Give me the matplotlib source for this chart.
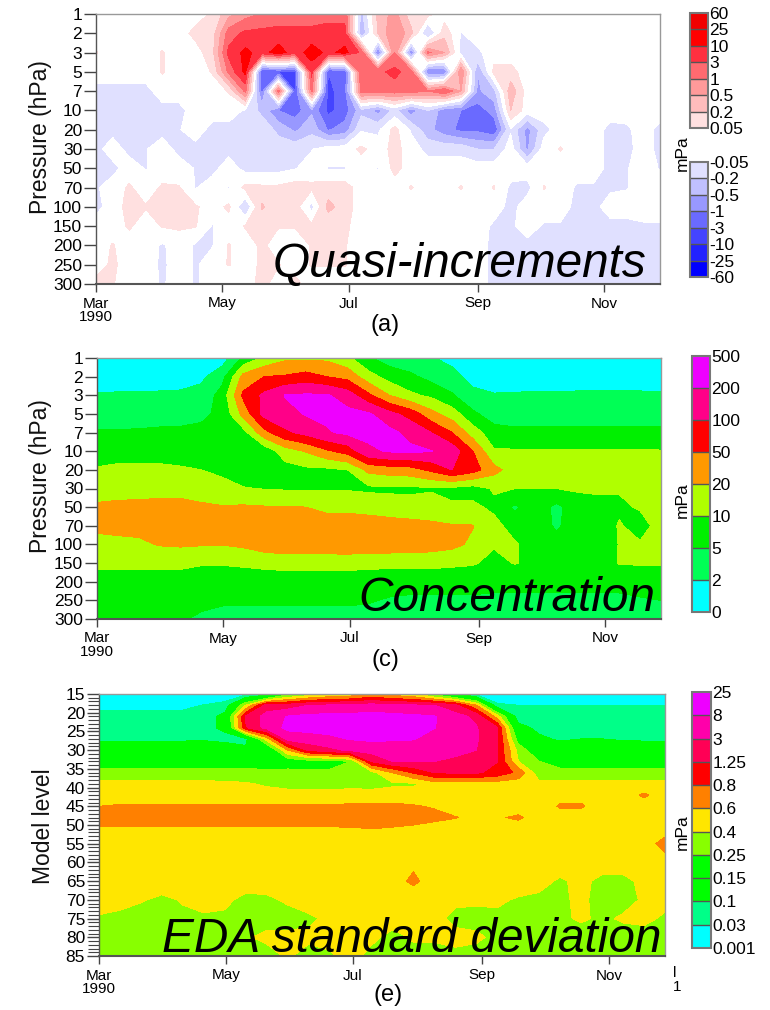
import numpy as np
import matplotlib
matplotlib.use("Agg")
import matplotlib.pyplot as plt
from matplotlib.cm import ScalarMappable
from matplotlib.colors import BoundaryNorm, ListedColormap

PRESSURE = ['1','2','3','5','7','10','20','30','50','70','100','150','200','250','300']
MONTHS = ['Mar\n1990','May','Jul','Sep','Nov']
MONTH_DAYS = [0,61,122,184,245]
END_DAY = 272

LEV_A_POS = [0.05,0.2,0.5,1,3,10,25,60]
LEV_A_NEG = [-60,-25,-10,-3,-1,-0.5,-0.2,-0.05]
COL_A_POS = ['#ffe0e0','#ffbcbc','#ff9a9a','#ff6a70','#ff3040','#ff0000','#f00000']
COL_A_NEG = ['#0000ff','#2222ff','#4444ff','#6a6aff','#9898ff','#c0c0ff','#e0e0ff']

LEV_C = [0,2,5,10,20,50,100,200,500]
COL_C = ['#00ffff','#00ff55','#00f000','#b0ff00','#ff9900','#ff0000','#ff0088','#ee00ff']

LEV_E = [0.001,0.03,0.1,0.15,0.25,0.4,0.6,0.8,1.25,3,8,25]
COL_E = ['#00ffff','#00ff88','#00ff00','#00ff00','#88ff00','#ffe600','#ff8000','#ff0000','#ff0055','#ff00aa','#ee00ff']
LEVELS_E_AXIS = [15,18,21,24,27,30,33,36,39,42,45,48,51,55,60,65,70,75,80,85]

# Panel (a): rows are pressure levels, columns are evenly spaced dates
QI = [
[0,0,0,0,0, 0,0,.07,.4,.8, 1.2,2,2,2,2.5, 2.5,-.3,.3,.7,.1, .1,0,0,0,0, 0,0,0,0,0, 0,0,0,0,0],
[0,0,0,0,0, 0,.1,.12,2,4.5, 5,5,5,5,5, 5,-.5,.2,1,.3, -.3,.15,-.06,0,0, 0,0,0,0,0, 0,0,0,0,0],
[.06,0,0,0,.06, 0,0,.15,5,14, 7,18,6,18,8, 15,2.5,-1.5,1,-1, 1.5,.5,-.1,-.08,0, 0,0,0,0,0, 0,0,0,0,0],
[0,0,0,0,.06, 0,0,.06,1.5,14, -3,-3,-3,5,-3, -2.5,3,2.5,5,2, -1.2,-1.2,1,-.5,.1, .1,0,0,0,0, 0,0,0,0,0],
[-.1,-.1,-.1,-.1,0, 0,0,0,.06,1.5, -2,2,-3,1.5,-5, -2,2,2,2,2, 1,3,.5,-.6,-.3, .4,0,0,0,0, 0,0,0,0,0],
[-.1,-.1,-.1,-.1,-.1, -.1,0,0,0,-.07, -.3,-1,-2,-.6,-5, -2,-.3,-.7,-.15,-.8, -.2,-.8,-1,-2,-.8, .2,0,0,0,0, 0,0,0,0,0],
[-.1,-.1,-.1,-.1,-.1, -.06,0,-.1,-.1,-.1, -.08,-.3,-.6,-.3,-1.2, -.8,-.07,-.08,.1,-.07, -.4,-.8,-1.5,-1.5,-2.5, -.07,-.7,-.1,0,0, 0,-.1,-.08,0,-.1],
[-.1,0,-.1,-.06,0, -.1,-.1,-.1,-.1,-.1, -.1,-.1,-.1,-.06,0, 0,.08,0,.1,0, -.1,-.1,-.1,-.2,-.2, 0,-.6,0,.06,0, 0,-.1,-.1,0,-.1],
[-.1,-.1,0,-.06,0, 0,-.06,-.1,0,-.1, -.1,-.1,-.06,0,-.06, -.06,0,-.06,.1,0, 0,0,0,0,0, 0,0,0,0,0, 0,-.1,-.06,0,-.06],
[-.07,0,.07,0,.07, .06,-.06,0,-.06,.09, .08,.08,.12,.08,.12, .12,0,0,0,.06, 0,0,.06,0,.06, -.08,-.1,.06,0,-.07, -.07,-.08,-.06,0,0],
[-.1,0,.1,.06,.07, .1,.07,0,.08,-.2, .25,.07,.12,-.1,.3, .12,0,0,0,0, 0,0,0,0,0, -.1,0,0,0,-.1, -.1,0,0,0,0],
[0,0,.07,0,.06, .07,.06,-.06,0,.06, .07,.06,.06,.08,.08, .08,0,0,0,0, 0,0,0,0,-.08, -.08,0,-.07,-.07,-.1, -.12,-.1,-.1,-.07,-.07],
[0,.06,0,0,-.07, 0,-.07,-.06,.06,0, .08,0,0,.06,.07, .06,0,0,0,0, 0,0,0,0,-.1, -.07,-.1,-.1,-.12,-.2, -.12,-.12,-.12,-.1,-.1],
[0,.08,0,0,-.08, 0,-.07,0,.06,0, .08,.06,0,.06,.06, .06,0,0,0,0, 0,0,0,0,-.1, -.1,-.1,-.12,-.12,-.15, -.12,-.12,-.12,-.15,-.1],
[.1,.06,0,0,-.07, 0,-.07,0,-.06,0, .1,0,.1,0,0, 0,0,0,0,0, 0,0,0,0,-.1, -.1,-.12,-.15,-.15,-.15, -.15,-.15,-.15,-.15,-.1],
]

# Panel (c): each list is one date, top of the atmosphere first
CONC = [
[.3,.8,2.3,3.5,5.5,7.5,11,15,25,30,15,12,8,6.5,5.2],
[.3,.8,2.4,3.5,5.5,8,12,16,27,30,17,12,8,6.5,5.3],
[.3,.8,2.4,3.6,5.6,8,12,16,28,30,18,12,8,6,5.2],
[.3,.9,2.5,3.6,6,8,12,17,28,32,22,12,8,6,5.2],
[.4,1,2.6,3.8,6,8,11,17,28,32,24,12,8,6,5.2],
[.6,1.6,3,4.5,6,7.5,10,15,25,30,22,11,7,5.5,4.8],
[1,4,7,6,6,7,9,13,22,30,21,11,6.5,5.5,4.3],
[6,30,60,30,8,5.5,7.5,10.5,24,30,25,12,6.5,5.5,4.3],
[12,50,120,130,40,6.5,8,9.8,22,30,35,13,7,5.5,4.3],
[18,55,210,170,90,15,8,9.5,22,32,38,14,7,5.5,4.3],
[18,70,240,220,130,22,9,9.5,20,33,38,14,7,5.5,4.3],
[18,50,230,260,190,45,9,9.5,18,32,38,14,7,5.5,4.3],
[12,40,150,280,260,70,10,9.5,18,32,40,14,7,5.5,4.3],
[5.5,14,60,240,280,180,28,9,17,32,38,13,7,5.3,4.2],
[3.5,8,20,130,280,230,35,9,15,32,38,13,6.5,4.8,4],
[3,6,12,80,170,260,38,9,14,30,36,13,6.5,4.6,4],
[2.2,4,9,30,100,210,60,9.5,14,26,34,13,6.5,4.6,4],
[1.5,2.8,5.5,15,50,160,100,9,11,22,28,12,6.5,4.6,4],
[.8,1.4,2.7,6,15,50,70,8,12,21,18,11,6.5,4.6,4],
[.6,1,2.2,3.5,7,11,30,11,9,13,11,8.5,6,4.6,4],
[.4,1,2.3,3.6,6,11,15,10,4.5,8,11,10.5,6,4.6,4],
[.3,.9,2.4,3.7,6,11,12,10,8,8,8,9,6,4.6,1.8],
[.3,.9,2.4,3.7,6,11,12.5,10,4.2,4.5,7,7,6,4.6,2.5],
[.3,.9,2.5,3.8,6,11,12,11,8,8,7.5,7.5,6,4.6,4],
[.3,.9,2.5,3.8,6,11,12.5,11,9,8,7.5,7.5,6,4.6,4],
[.3,.9,2.5,3.8,6,11,12,10.5,9.5,10.5,10.3,10.5,6,4.6,4],
[.3,.9,2.5,3.8,6,11,12,11,10.5,9,10.5,11,6.5,4.8,4],
[.3,.9,2.4,3.8,6,10.5,12,11,11,12,12,11,7,5,4],
]

# Panel (e): each list is one date, values on LEVELS_E_AXIS
EDA = [
[.01,.025,.045,.07,.09,.12,.2,.3,.45,.5,.6,.7,.58,.5,.5,.5,.45,.39,.33,.3],
[.01,.025,.045,.07,.09,.12,.2,.3,.45,.5,.62,.7,.58,.5,.5,.48,.45,.37,.3,.3],
[.01,.025,.045,.07,.09,.12,.2,.3,.45,.5,.62,.7,.58,.5,.5,.47,.41,.36,.33,.3],
[.01,.025,.045,.07,.09,.12,.2,.3,.45,.5,.62,.7,.58,.5,.5,.47,.38,.36,.33,.3],
[.01,.025,.045,.07,.09,.13,.2,.3,.45,.5,.62,.7,.58,.5,.5,.47,.41,.38,.36,.33],
[.01,.032,.06,.08,.09,.14,.2,.3,.45,.5,.62,.7,.58,.5,.5,.47,.43,.39,.35,.34],
[.012,.05,.12,.11,.08,.13,.2,.3,.44,.5,.62,.7,.58,.5,.5,.47,.43,.38,.37,.33],
[.02,.4,1.5,1.2,.08,.11,.2,.3,.42,.5,.62,.7,.58,.5,.5,.47,.37,.37,.39,.35],
[.05,2,5,5,.5,.12,.15,.3,.38,.48,.62,.7,.58,.5,.5,.47,.38,.36,.43,.36],
[.2,2,9,12,5,.6,.18,.3,.36,.46,.62,.7,.58,.5,.5,.48,.42,.36,.43,.42],
[.3,3,12,13,6,1.5,.2,.28,.36,.46,.62,.7,.58,.5,.5,.5,.47,.38,.43,.36],
[.4,3.5,13,14,7,2.5,.2,.28,.35,.46,.62,.7,.58,.5,.5,.5,.47,.43,.43,.39],
[.45,4,13,14,9,4,.25,.3,.36,.47,.64,.72,.58,.5,.5,.5,.48,.43,.44,.43],
[.6,5,14,15,11,5,1.4,.35,.35,.47,.65,.72,.6,.5,.5,.5,.48,.44,.42,.38],
[.5,4,13,15,10,5,3,.6,.38,.47,.65,.72,.58,.5,.5,.52,.48,.44,.38,.35],
[.4,3.5,11,12,9,5,3.5,.85,.38,.47,.62,.7,.55,.5,.56,.64,.48,.44,.41,.38],
[.2,3,9,8.5,6,6,3,1.3,.5,.48,.58,.66,.5,.5,.5,.5,.47,.43,.42,.36],
[.1,1.7,5,6,5,5,2.5,1.5,.5,.48,.5,.61,.48,.5,.5,.48,.42,.38,.43,.38],
[.02,.6,2.5,3.4,3.5,3,2,1.5,.5,.48,.5,.55,.48,.5,.5,.48,.42,.37,.42,.37],
[.01,.04,.5,1.3,1.5,1.3,1.3,1.1,.5,.48,.5,.58,.48,.5,.5,.47,.42,.38,.38,.36],
[.01,.03,.06,.12,.2,.35,.4,.75,.48,.48,.5,.63,.5,.5,.5,.47,.39,.36,.37,.36],
[.01,.03,.05,.08,.11,.15,.25,.3,.45,.5,.5,.5,.5,.5,.5,.46,.37,.37,.37,.33],
[.01,.03,.05,.08,.09,.13,.2,.3,.45,.55,.62,.5,.5,.5,.5,.38,.38,.38,.36,.33],
[.01,.03,.05,.08,.1,.14,.2,.3,.45,.55,.62,.5,.5,.5,.5,.45,.43,.42,.35,.33],
[.01,.03,.05,.08,.1,.14,.2,.3,.45,.5,.5,.5,.5,.5,.5,.36,.36,.38,.33,.31],
[.01,.03,.05,.08,.09,.14,.2,.3,.45,.5,.5,.5,.5,.5,.5,.36,.36,.42,.35,.31],
[.01,.03,.05,.08,.09,.13,.2,.3,.45,.63,.5,.5,.5,.5,.5,.45,.42,.44,.35,.31],
[.01,.03,.05,.08,.09,.13,.2,.3,.45,.5,.5,.5,.5,.68,.5,.47,.45,.38,.33,.25],
]

TICK_FONT = ['Liberation Sans']
W, H = 770, 1010
fig = plt.figure(figsize=(W/100, H/100), dpi=100)

def box(l, t, r, b):
    return [l/W, 1-b/H, (r-l)/W, (b-t)/H]

def to_class(values, levels):
    return np.interp(values, levels, np.arange(len(levels)))

def style(ax):
    ax.set_xlim(0, END_DAY)
    ax.set_xticks(MONTH_DAYS, MONTHS, family=TICK_FONT, fontsize=11, linespacing=0.95)
    ax.tick_params(axis='x', length=6, width=1, color='#444444', pad=3)
    ax.tick_params(axis='y', length=9, width=1, color='#444444', pad=1)
    for s in ax.spines.values():
        s.set_color('#999999')
        s.set_linewidth(1)
    ax.spines['bottom'].set_color('#555555')
    ax.spines['bottom'].set_linewidth(1.5)
    ax.spines['left'].set_color('#555555')

def bar(pos, levels, colors, labels):
    cax = fig.add_axes(box(*pos))
    sm = ScalarMappable(norm=BoundaryNorm(levels, len(colors)), cmap=ListedColormap(colors))
    cb = fig.colorbar(sm, cax=cax, spacing='uniform', ticks=levels, drawedges=True)
    cb.ax.set_yticklabels(labels, family=TICK_FONT, fontsize=12.5)
    cb.ax.tick_params(length=0, pad=1)
    cb.outline.set_edgecolor('#777777')
    cb.outline.set_linewidth(1.5)
    cb.dividers.set_color('#555555')
    cb.dividers.set_linewidth(1)

def label(x, y, s, **kw):
    fig.text(x/W, 1-y/H, s, **kw)

# (a)
ax = fig.add_axes(box(96, 14, 660, 284))
qi = np.array(QI)
lev_a = LEV_A_NEG + LEV_A_POS
ax.contourf(np.linspace(0, END_DAY, qi.shape[1]), np.arange(len(PRESSURE)),
            to_class(qi, lev_a), levels=np.arange(len(lev_a)),
            colors=COL_A_NEG + ['#ffffff'] + COL_A_POS)
ax.set_ylim(len(PRESSURE)-1, 0)
ax.set_yticks(np.arange(len(PRESSURE)), PRESSURE, family=TICK_FONT, fontsize=12.5)
style(ax)

# (c)
ax = fig.add_axes(box(97, 358, 661, 619))
conc = np.array(CONC).T
ax.contourf(np.linspace(0, END_DAY, conc.shape[1]), np.arange(len(PRESSURE)),
            to_class(conc, LEV_C), levels=np.arange(len(LEV_C)), colors=COL_C)
ax.set_ylim(len(PRESSURE)-1, 0)
ax.set_yticks(np.arange(len(PRESSURE)), PRESSURE, family=TICK_FONT, fontsize=12.5)
style(ax)

# (e)
ax = fig.add_axes(box(99, 694, 665, 956))
eda = np.array(EDA).T
ax.contourf(np.linspace(0, END_DAY, eda.shape[1]), LEVELS_E_AXIS,
            to_class(eda, LEV_E), levels=np.arange(len(LEV_E)), colors=COL_E)
ax.set_ylim(85, 15)
ax.set_yticks(np.arange(15, 86, 5), [str(v) for v in range(15, 86, 5)], family=TICK_FONT, fontsize=12.5)
ax.set_yticks(np.arange(15, 86, 1), minor=True)
ax.tick_params(axis='y', which='minor', length=8, width=0.8, color='#444444')
style(ax)

# colour bars
bar((690, 13, 708, 128), LEV_A_POS, COL_A_POS, [str(v) for v in LEV_A_POS])
bar((690, 162, 708, 277), LEV_A_NEG, COL_A_NEG, [str(v) for v in LEV_A_NEG])
bar((692, 356, 710, 612), LEV_C, COL_C, [str(v) for v in LEV_C])
bar((692, 692, 711, 948), LEV_E, COL_E, [str(v) for v in LEV_E])

# labels
for x, y, s in [(41, 137, 'Pressure (hPa)'), (41, 476, 'Pressure (hPa)'), (43, 826, 'Model level')]:
    label(x, y, s, rotation=90, ha='center', va='center', family=TICK_FONT, fontsize=16.5, color='#111111')
for y in (153, 500, 832):
    label(682, y, 'mPa', rotation=90, ha='center', va='center', family=TICK_FONT, fontsize=12.5)
for x, y, s in [(385, 325, '(a)'), (385, 660, '(c)'), (388, 995, '(e)')]:
    label(x, y, s, ha='center', va='center', family=TICK_FONT, fontsize=17)
for x, y, s in [(273, 277, 'Quasi-increments'), (358, 611, 'Concentration'), (162, 952, 'EDA standard deviation')]:
    label(x, y, s, ha='left', va='baseline', family=TICK_FONT, style='italic', fontsize=34.4, color='black')
label(673, 973, 'l', ha='left', va='center', family=TICK_FONT, fontsize=11)
label(673, 987, '1', ha='left', va='center', family=TICK_FONT, fontsize=11)

fig.savefig('out.png', dpi=100)
